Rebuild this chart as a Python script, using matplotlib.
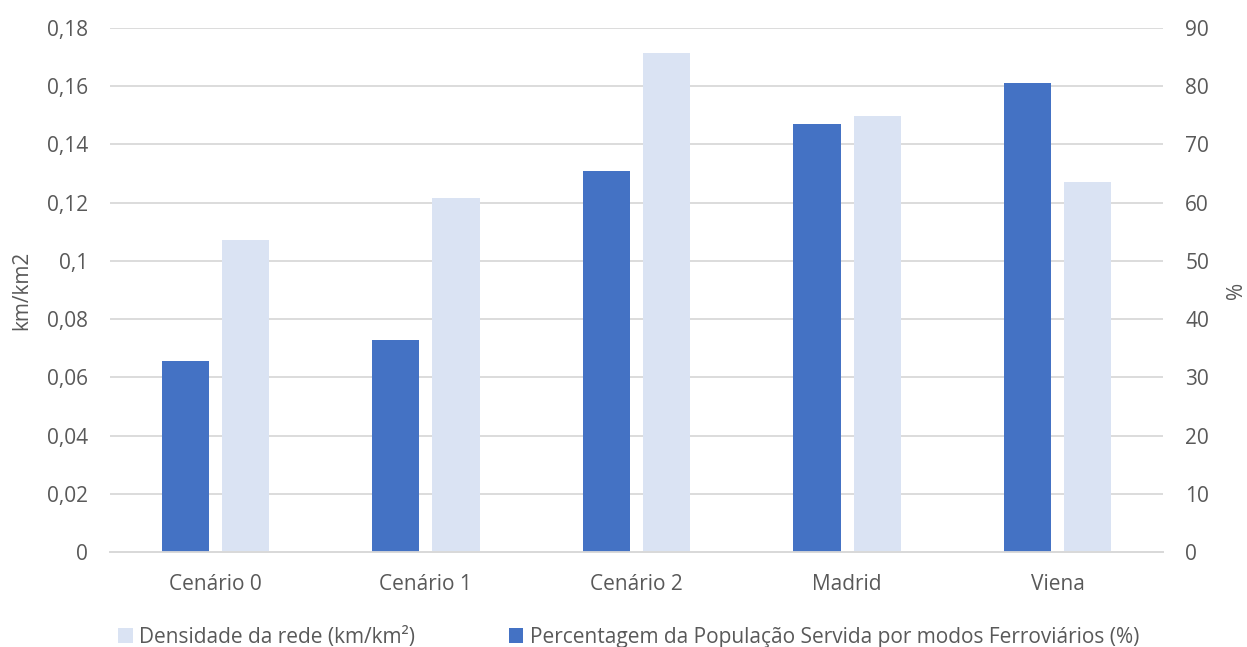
import matplotlib.pyplot as plt
import numpy as np

plt.rcParams['font.family'] = ['Open Sans', 'DejaVu Sans']

categorias = ['Cenário 0', 'Cenário 1', 'Cenário 2', 'Madrid', 'Viena']
densidade = [0.1072, 0.1216, 0.1714, 0.1498, 0.1271]      # km/km², eixo esquerdo
percentagem = [32.8, 36.4, 65.4, 73.5, 80.6]              # %, eixo direito
ticks_esq = ['0', '0,02', '0,04', '0,06', '0,08', '0,1', '0,12', '0,14', '0,16', '0,18']

azul = '#4472C4'
azul_claro = '#DAE3F3'
cinza = '#D9D9D9'
texto = '#595959'

fig = plt.figure(figsize=(12.47, 6.47), dpi=100)
ax = fig.add_axes([0.0882, 0.1468, 0.8444, 0.8099])
ax2 = ax.twinx()

x = np.arange(len(categorias))
w = 0.224
ax.bar(x + 0.143, densidade, w, color=azul_claro, label='Densidade da rede (km/km²)', zorder=2)
ax2.bar(x - 0.143, percentagem, w, color=azul,
        label='Percentagem da População Servida por modos Ferroviários (%)', zorder=2)

ax.set_xlim(-0.5, 4.5)
ax.set_ylim(0, 0.18)
ax2.set_ylim(0, 90)
ax.set_yticks(np.arange(0, 0.181, 0.02))
ax.set_yticklabels(ticks_esq)
ax2.set_yticks(np.arange(0, 91, 10))
ax.set_xticks(x)
ax.set_xticklabels(categorias)

ax.yaxis.grid(True, color=cinza, linewidth=1.3, zorder=0)
ax.set_axisbelow(True)
for a in (ax, ax2):
    for s in ['top', 'left', 'right']:
        a.spines[s].set_visible(False)
    a.spines['bottom'].set_color(cinza)
    a.spines['bottom'].set_linewidth(1.3)
    a.tick_params(length=0, labelsize=15, colors=texto, pad=16)
ax.tick_params(axis='x', pad=16)

ax.set_ylabel('km/km2', fontsize=15, color=texto, labelpad=10)
ax2.set_ylabel('%', fontsize=15, color=texto, labelpad=12)

h1, l1 = ax.get_legend_handles_labels()
h2, l2 = ax2.get_legend_handles_labels()
fig.legend(h1 + h2, l1 + l2, loc='lower center', bbox_to_anchor=(0.504, -0.03), ncol=2,
           frameon=False, fontsize=15, labelcolor=texto, handlelength=0.7, handleheight=0.7,
           handletextpad=0.3, columnspacing=4.5)

fig.savefig('out.png', dpi=100)
